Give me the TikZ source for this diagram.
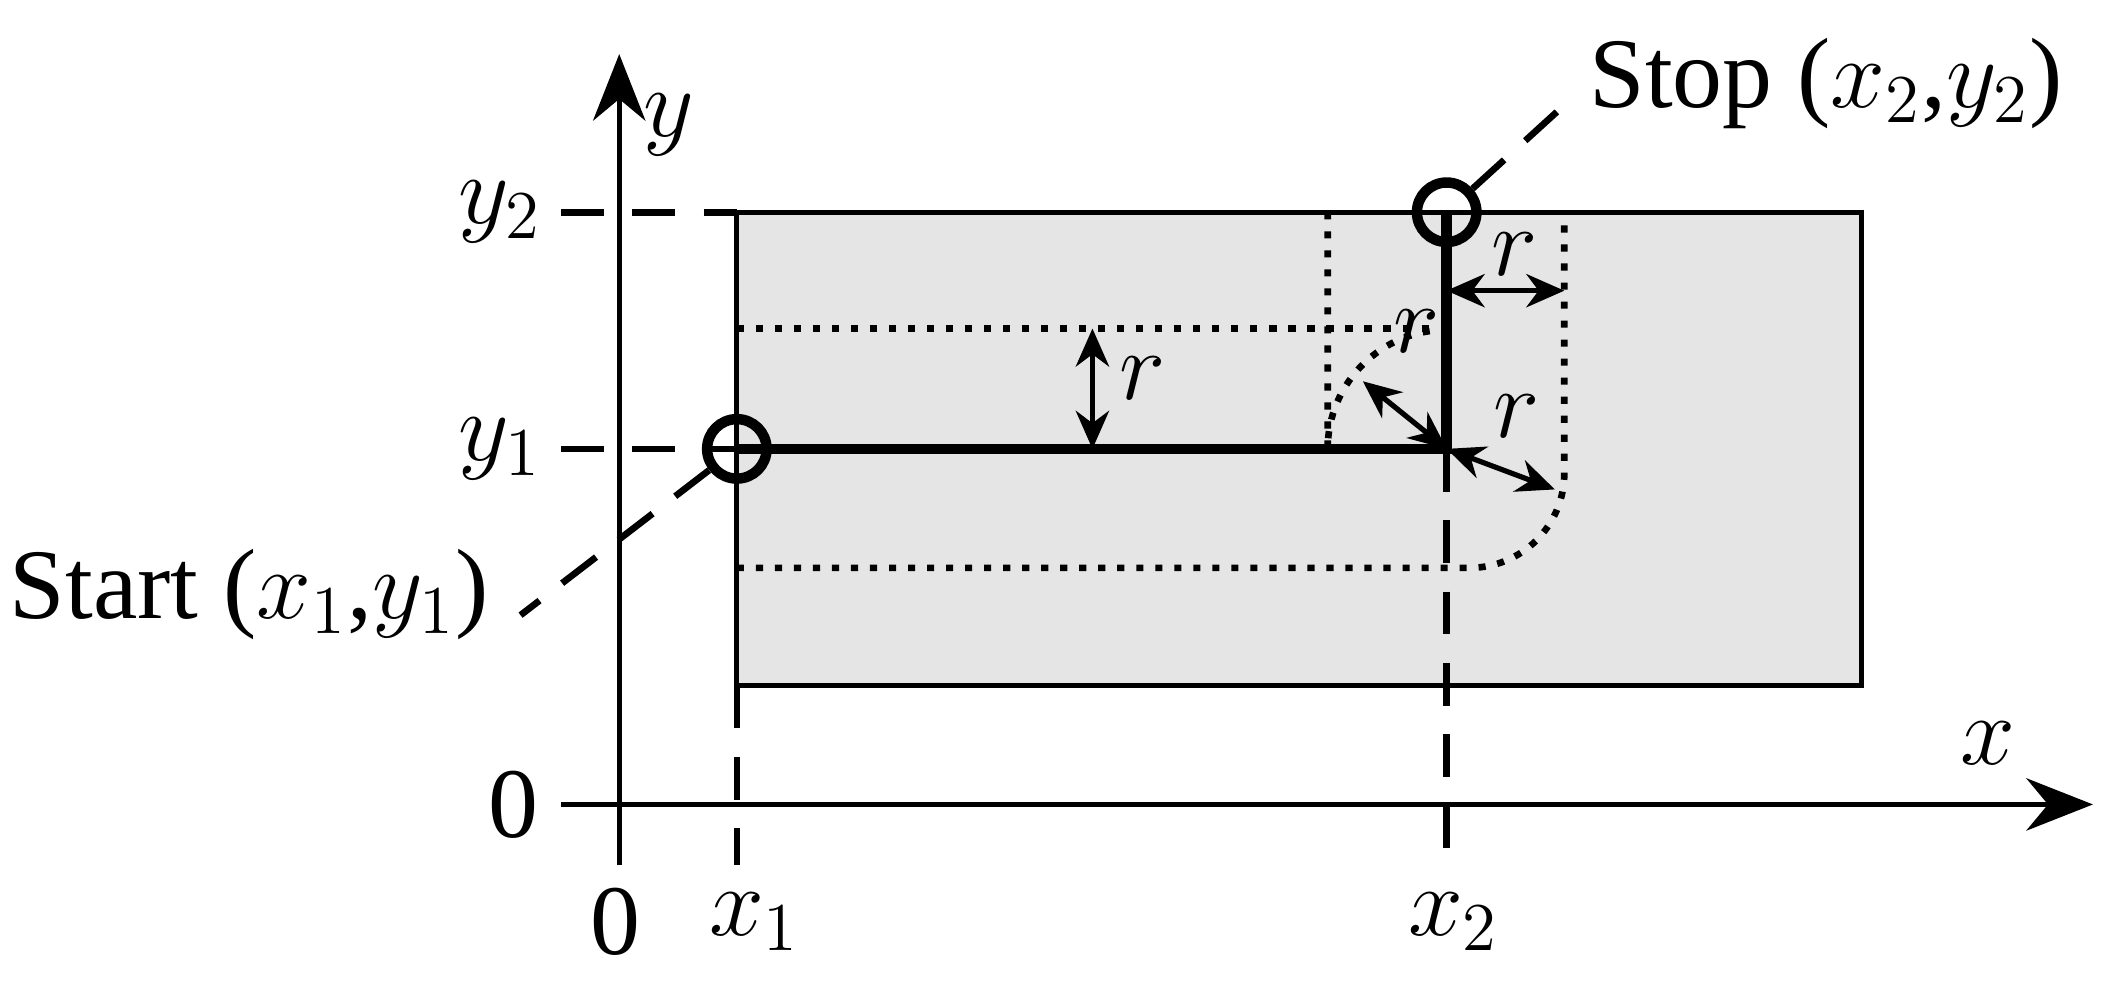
\documentclass[tikz,border=0pt]{standalone}
\usepackage{fontspec}
\setmainfont{Liberation Serif}
\usetikzlibrary{arrows.meta}
\begin{document}
\begin{tikzpicture}[x=0.01cm,y=-0.01cm,
  lab/.style={font=\fontsize{21}{24}\selectfont,inner sep=0pt},
  ax/.style={line width=1.1pt,-{Stealth[length=14pt,width=11pt]}},
  dsh/.style={line width=1.4pt,dash pattern=on 9pt off 6pt},
  dot/.style={line width=1.4pt,dash pattern=on 1.5pt off 2.5pt},
  ra/.style={line width=1.1pt,{Stealth[length=8pt,width=7pt]}-{Stealth[length=8pt,width=7pt]}}]
\useasboundingbox (0,0) rectangle (1568,728);
\fill[gray!20] (545,157) rectangle (1377,507);
\draw[line width=1pt] (545,157) rectangle (1377,507);
\draw[ax] (458,640) -- (458,40);
\draw[ax] (415,595) -- (1548,595);
\draw[dsh] (415,157) -- (545,157);
\draw[dsh] (415,332) -- (545,332);
\draw[dsh] (545,507) -- (545,640);
\draw[dsh] (1070,332) -- (1070,640);
\draw[dot] (545,243) -- (1070,243);
\draw[dot] (982,157) -- (982,332) arc (180:270:88);
\draw[dot] (545,420) -- (1087,420) arc (90:0:70) -- (1157,157);
\draw[line width=2.2pt] (545,332) -- (1070,332) -- (1070,157);
\node[draw,circle,line width=2.2pt,minimum size=44*0.01cm,inner sep=0pt] (s) at (545,332) {};
\node[draw,circle,line width=2.2pt,minimum size=44*0.01cm,inner sep=0pt] (e) at (1070,157) {};
\coordinate (sl) at (385,455);
\coordinate (el) at (1160,75);
\draw[dsh] (s) -- (sl);
\draw[dsh] (e) -- (el);
\draw[ra] (808,243) -- (808,332);
\draw[ra] (1070,215) -- (1157,215);
\draw[ra] (1070,332) -- (1008,282);
\draw[ra] (1070,332) -- (1150,362);
\node[lab] at (845,280) {$r$};
\node[lab] at (1120,188) {$r$};
\node[lab] at (1048,245) {$r$};
\node[lab] at (1122,308) {$r$};
\node[lab,anchor=west] at (1175,62) {Stop ($x_2$,$y_2$)};
\node[lab,anchor=east] at (362,440) {Start ($x_1$,$y_1$)};
\node[lab] at (495,92) {$y$};
\node[lab] at (370,157) {$y_2$};
\node[lab] at (370,332) {$y_1$};
\node[lab] at (380,595) {0};
\node[lab] at (455,682) {0};
\node[lab] at (558,682) {$x_1$};
\node[lab] at (1075,682) {$x_2$};
\node[lab] at (1470,550) {$x$};
\end{tikzpicture}
\end{document}
